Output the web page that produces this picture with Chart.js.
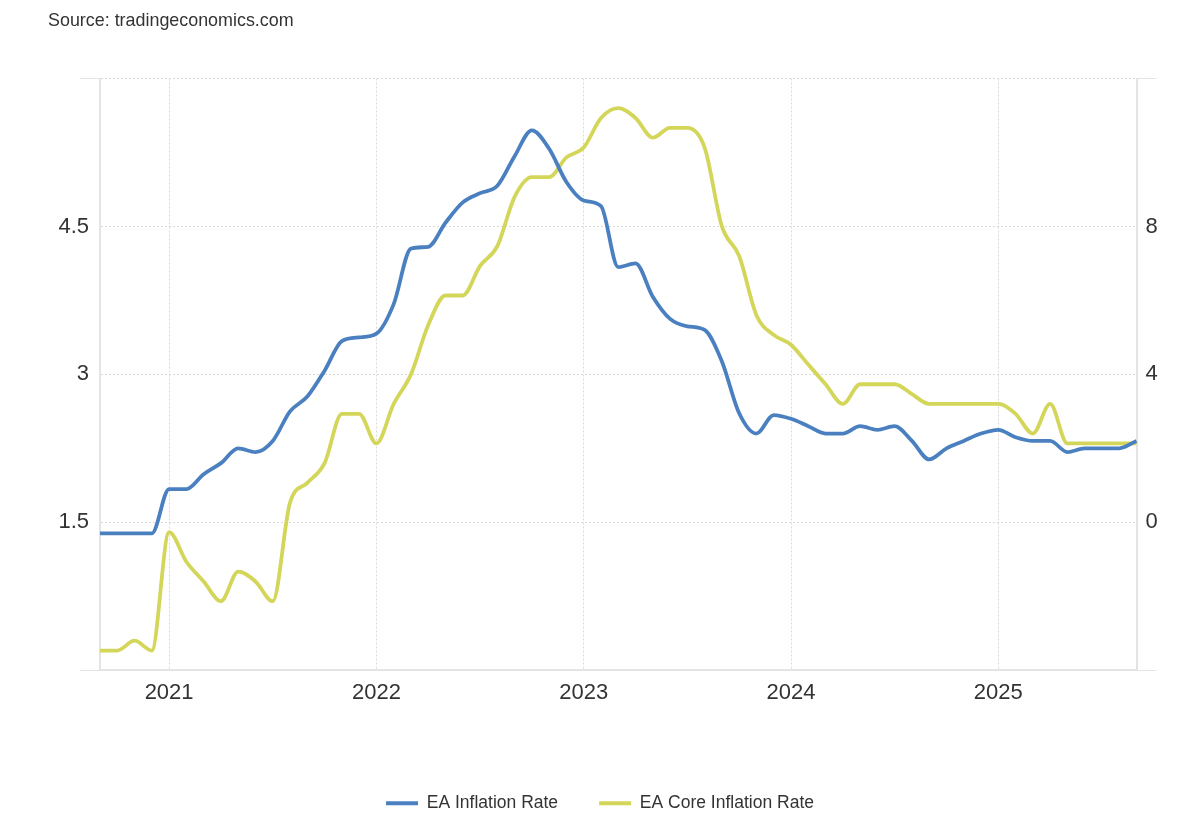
<!DOCTYPE html>
<html>
<head>
<meta charset="utf-8">
<title>EA Inflation Rate vs EA Core Inflation Rate</title>
<script src="https://cdn.jsdelivr.net/npm/chart.js@4.4.1/dist/chart.umd.min.js"></script>
<style>
  html, body { margin: 0; padding: 0; background: #fff; overflow: hidden; }
  #wrap { position: relative; width: 1200px; height: 822px; }
  #source {
    position: absolute; left: 48px; top: 8px;
    font: 17.9px "Liberation Sans", Arial, Helvetica, sans-serif;
    line-height: 24px; color: #333;
  }
</style>
</head>
<body>
<div id="wrap">
  <div id="source">Source: tradingeconomics.com</div>
  <canvas id="chart"></canvas>
</div>
<script>
// monthly observations, Sep 2020 .. Sep 2025
const months = [
  "2020-09", "2020-10", "2020-11", "2020-12",
  "2021-01", "2021-02", "2021-03", "2021-04", "2021-05", "2021-06",
  "2021-07", "2021-08", "2021-09", "2021-10", "2021-11", "2021-12",
  "2022-01", "2022-02", "2022-03", "2022-04", "2022-05", "2022-06",
  "2022-07", "2022-08", "2022-09", "2022-10", "2022-11", "2022-12",
  "2023-01", "2023-02", "2023-03", "2023-04", "2023-05", "2023-06",
  "2023-07", "2023-08", "2023-09", "2023-10", "2023-11", "2023-12",
  "2024-01", "2024-02", "2024-03", "2024-04", "2024-05", "2024-06",
  "2024-07", "2024-08", "2024-09", "2024-10", "2024-11", "2024-12",
  "2025-01", "2025-02", "2025-03", "2025-04", "2025-05", "2025-06",
  "2025-07", "2025-08", "2025-09",
];

// headline HICP, right axis
const inflationRate = [
  -0.3, -0.3, -0.3, -0.3,
  0.9, 0.9, 1.3, 1.6, 2.0, 1.9, 2.2, 3.0, 3.4, 4.1, 4.9, 5.0,
  5.1, 5.9, 7.4, 7.45, 8.1, 8.65, 8.9, 9.1, 9.9, 10.6, 10.1, 9.2,
  8.7, 8.55, 6.9, 7.0, 6.1, 5.5, 5.3, 5.2, 4.35, 2.95, 2.4, 2.9,
  2.8, 2.6, 2.4, 2.4, 2.6, 2.5, 2.6, 2.2, 1.7, 2.0, 2.2, 2.4,
  2.5, 2.3, 2.2, 2.2, 1.9, 2.0, 2.0, 2.0, 2.2,
];

// core HICP, left axis
const coreInflationRate = [
  0.2, 0.2, 0.3, 0.2,
  1.4, 1.1, 0.9, 0.7, 1.0, 0.9, 0.7, 1.7, 1.9, 2.1, 2.6, 2.6,
  2.3, 2.7, 3.0, 3.5, 3.8, 3.8, 4.1, 4.3, 4.8, 5.0, 5.0, 5.2,
  5.3, 5.6, 5.7, 5.6, 5.4, 5.5, 5.5, 5.3, 4.5, 4.2, 3.6, 3.4,
  3.3, 3.1, 2.9, 2.7, 2.9, 2.9, 2.9, 2.8, 2.7, 2.7, 2.7, 2.7,
  2.7, 2.6, 2.4, 2.7, 2.3, 2.3, 2.3, 2.3, 2.3,
];

const leftTicks = [1.5, 3, 4.5];
const rightTicks = [0, 4, 8];

const BLUE = "#4b80c0";
const YELLOW = "#d4d65a";
const GRID = "#d8d8d8";
const AXIS = "#e4e4e4";
const TEXT = "#333";

Chart.defaults.font.family = '"Liberation Sans", Arial, Helvetica, sans-serif';
Chart.defaults.color = TEXT;

const isJanuary = (i) => months[i] && months[i].endsWith("-01");
const edgeTick = (ctx) =>
  ctx.index === 0 || ctx.index === ctx.scale.ticks.length - 1 ? AXIS : "transparent";

new Chart(document.getElementById("chart"), {
  type: "line",
  data: {
    labels: months,
    datasets: [
      {
        label: "EA Inflation Rate",
        data: inflationRate,
        yAxisID: "y1",
        borderColor: BLUE,
        backgroundColor: BLUE,
        borderWidth: 3.8,
        pointRadius: 0,
        cubicInterpolationMode: "monotone",
      },
      {
        label: "EA Core Inflation Rate",
        data: coreInflationRate,
        yAxisID: "y",
        borderColor: YELLOW,
        backgroundColor: YELLOW,
        borderWidth: 3.8,
        pointRadius: 0,
        cubicInterpolationMode: "monotone",
      },
    ],
  },
  options: {
    responsive: true,
    maintainAspectRatio: false,
    animation: false,
    layout: { padding: { top: 78.5, left: 0, right: 0, bottom: 0 } },
    plugins: {
      tooltip: { enabled: false },
      legend: {
        position: "bottom",
        labels: {
          usePointStyle: true,
          pointStyle: "line",
          pointStyleWidth: 32,
          padding: 41,
          color: TEXT,
          font: { size: 17.5 },
        },
      },
    },
    scales: {
      x: {
        offset: false,
        afterFit: (scale) => { scale.height = 83.25; },
        grid: {
          drawTicks: false,
          offset: false,
          color: (ctx) => (isJanuary(ctx.index) ? GRID : "transparent"),
        },
        border: { display: true, color: AXIS, width: 2, dash: [2, 2] },
        ticks: {
          autoSkip: false,
          maxRotation: 0,
          padding: 9,
          color: TEXT,
          font: { size: 22 },
          callback: (value, i) => (isJanuary(i) ? months[i].slice(0, 4) : ""),
        },
      },
      y: {
        position: "left",
        min: 0,
        max: 6,
        afterFit: (scale) => { scale.width = 100; },
        grid: {
          color: GRID,
          drawTicks: true,
          tickLength: 20,
          tickColor: edgeTick,
          tickBorderDash: [],
        },
        border: { display: true, color: AXIS, width: 2, dash: [2, 2] },
        ticks: {
          stepSize: 1.5,
          padding: -9,
          color: TEXT,
          font: { size: 22 },
          callback: (value) => (leftTicks.includes(value) ? value : ""),
        },
      },
      y1: {
        position: "right",
        min: -4,
        max: 12,
        afterFit: (scale) => { scale.width = 63.5; },
        grid: {
          drawOnChartArea: false,
          drawTicks: true,
          tickLength: 20,
          tickColor: edgeTick,
          tickBorderDash: [],
        },
        border: { display: true, color: AXIS, width: 2 },
        ticks: {
          stepSize: 4,
          padding: -11,
          color: TEXT,
          font: { size: 22 },
          callback: (value) => (rightTicks.includes(value) ? value : ""),
        },
      },
    },
  },
});
</script>
</body>
</html>
